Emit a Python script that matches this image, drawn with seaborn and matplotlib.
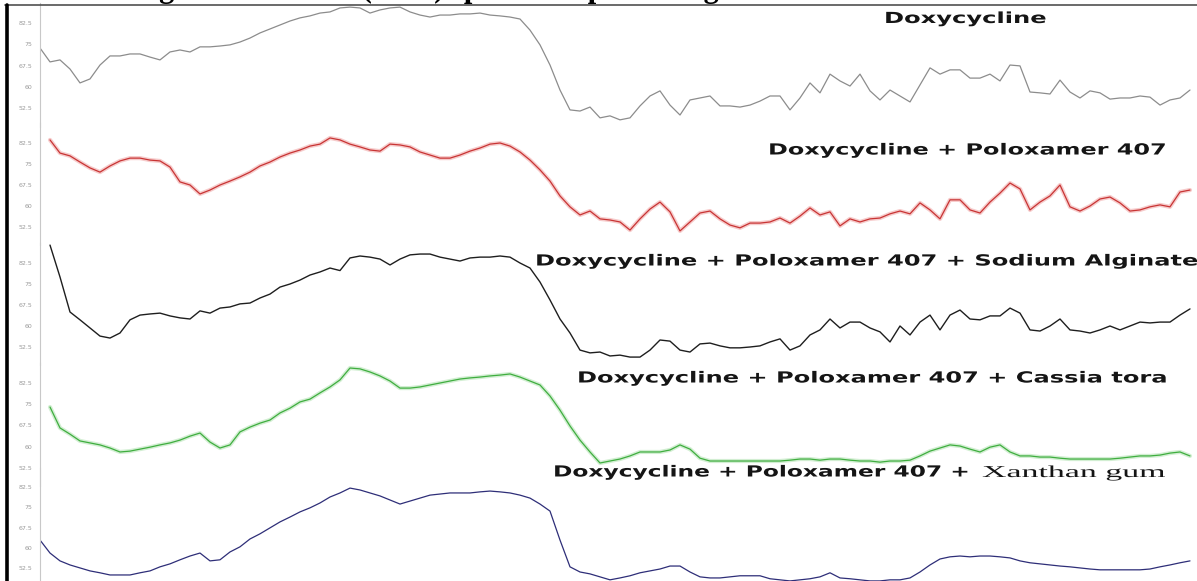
import matplotlib
matplotlib.use('Agg')
import numpy as np
import pandas as pd
import seaborn as sns
import matplotlib.pyplot as plt
from matplotlib.ticker import FixedLocator, MultipleLocator
from matplotlib.patheffects import AbstractPathEffect
from matplotlib.transforms import Affine2D
from matplotlib.lines import Line2D

# ---------------- data ----------------
nan = np.nan
wavenumber = list(range(4000, 549, -30))  # cm-1, sampling grid (116 points)

tick_values = [52.5, 60, 67.5, 75, 82.5]
tick_labels = ["52.5", "60", "67.5", "75", "82.5"]

caption = "Figure 10: FT-IR (ATR) spectra of pure drug and formulations"

labels = [
    "Doxycycline",
    "Doxycycline + Poloxamer 407",
    "Doxycycline + Poloxamer 407 + Sodium Alginate",
    "Doxycycline + Poloxamer 407 + Cassia tora",
    "Doxycycline + Poloxamer 407 + Xanthan gum",
]

doxy = [73.7, 68.8, 69.5, 66.3, 61.4, 62.8, 67.7, 70.9, 70.9, 71.6,
        71.6, 70.5, 69.5, 72.3, 73.0, 72.3, 74.1, 74.1, 74.4, 74.8,
        75.8, 77.2, 79.0, 80.4, 81.8, 83.2, 84.3, 85.0, 86.0, 86.4,
        87.8, 88.1, 87.8, 86.0, 87.1, 87.8, 88.1, 86.4, 85.3, 84.6,
        85.3, 85.3, 85.7, 85.7, 86.0, 85.3, 85.0, 84.6, 83.9, 80.0,
        74.8, 67.7, 58.9, 51.9, 51.5, 52.9, 49.1, 49.8, 48.4, 49.1,
        53.3, 56.8, 58.6, 53.6, 50.1, 55.4, 56.1, 56.8, 53.3, 53.3,
        52.9, 53.6, 55.0, 56.8, 56.8, 51.9, 56.1, 61.4, 57.9, 64.5,
        62.1, 60.3, 64.5, 58.6, 55.4, 58.9, 56.8, 54.7, 60.7, 66.7,
        64.5, 66.0, 66.0, 63.1, 63.1, 64.5, 62.1, 67.7, 67.4, 58.2,
        57.9, 57.5, 62.4, 58.2, 56.1, 58.6, 57.9, 55.7, 56.1, 56.1,
        56.8, 56.4, 53.6, 55.4, 56.1, 58.9]

doxy_p407 = [nan, 83.6, 78.9, 77.9, 75.7, 73.6, 72.1, 74.3, 76.1, 77.1,
             77.1, 76.4, 76.1, 73.9, 68.6, 67.5, 64.3, 65.7, 67.5, 68.9,
             70.4, 72.1, 74.3, 75.7, 77.5, 78.9, 80.0, 81.4, 82.1, 84.3,
             83.6, 82.1, 81.1, 80.0, 79.6, 82.1, 81.8, 81.1, 79.3, 78.2,
             77.1, 77.1, 78.2, 79.6, 80.7, 82.1, 82.5, 81.4, 79.3, 76.4,
             72.9, 68.9, 63.6, 59.7, 56.8, 58.2, 55.4, 55.0, 54.3, 51.4,
             55.4, 58.9, 61.4, 57.9, 51.1, 54.3, 57.5, 58.2, 55.4, 53.2,
             52.2, 53.9, 53.9, 54.3, 55.7, 53.9, 56.4, 59.3, 56.8, 57.9,
             52.9, 55.4, 54.3, 55.4, 55.7, 57.2, 58.2, 57.2, 61.1, 58.6,
             55.4, 62.2, 62.2, 58.6, 57.5, 61.4, 64.6, 68.2, 66.1, 58.6,
             61.4, 63.6, 67.5, 59.7, 58.2, 60.0, 62.5, 63.2, 61.1, 58.2,
             58.6, 59.7, 60.4, 59.7, 65.0, 65.7]

doxy_p407_sa = [nan, 88.9, 77.5, 65.0, 62.2, 59.3, 56.4, 55.7, 57.5, 62.2,
                63.9, 64.3, 64.6, 63.6, 62.9, 62.5, 65.4, 64.6, 66.4, 66.8,
                67.9, 68.2, 70.0, 71.4, 73.9, 75.0, 76.4, 78.2, 79.3, 80.7,
                79.8, 84.3, 85.0, 84.6, 83.9, 81.8, 83.9, 85.4, 85.7, 85.7,
                84.6, 83.9, 83.2, 84.3, 84.6, 84.6, 85.0, 84.6, 82.5, 80.7,
                75.7, 69.3, 62.5, 57.5, 51.4, 50.4, 50.7, 49.3, 49.6, 48.9,
                48.9, 51.4, 55.0, 54.6, 51.4, 50.7, 53.6, 53.9, 52.9, 52.2,
                52.2, 52.5, 52.9, 54.3, 55.4, 51.4, 52.9, 56.8, 58.6, 62.5,
                59.3, 61.4, 61.4, 59.3, 57.9, 54.3, 60.0, 56.8, 61.4, 63.9,
                58.6, 63.9, 65.7, 62.5, 62.2, 63.6, 63.6, 66.4, 64.6, 58.6,
                58.2, 60.0, 62.5, 58.6, 58.2, 57.5, 58.6, 60.0, 58.6, 60.0,
                61.4, 61.1, 61.4, 61.4, 63.9, 66.1]

doxy_p407_ct = [nan, 74.0, 66.6, 64.4, 62.0, 61.3, 60.6, 59.5, 58.1, 58.4,
                59.1, 59.8, 60.6, 61.3, 62.3, 63.7, 64.8, 61.6, 59.5, 60.6,
                65.2, 66.9, 68.3, 69.4, 71.9, 73.6, 75.8, 76.8, 79.0, 81.1,
                83.6, 87.8, 87.5, 86.4, 85.0, 83.2, 80.7, 80.7, 81.1, 81.8,
                82.5, 83.2, 83.9, 84.3, 84.6, 85.0, 85.3, 85.7, 84.6, 83.2,
                81.8, 77.9, 72.9, 67.3, 62.3, 58.1, 54.2, 54.9, 55.6, 56.7,
                58.1, 58.1, 58.1, 58.8, 60.6, 59.1, 55.9, 54.9, 54.9, 54.9,
                54.9, 54.9, 54.9, 54.9, 54.9, 55.2, 55.6, 55.6, 55.2, 55.6,
                55.6, 55.2, 54.9, 54.9, 54.5, 54.9, 54.9, 55.2, 56.7, 58.4,
                59.5, 60.6, 60.2, 59.1, 58.1, 59.8, 60.6, 58.1, 56.7, 56.7,
                56.3, 56.3, 55.9, 55.6, 55.6, 55.6, 55.6, 55.6, 55.9, 56.3,
                56.7, 56.7, 57.0, 57.7, 58.1, 56.7]

doxy_p407_xg = [62.9, 58.1, 55.2, 53.7, 52.6, 51.5, 50.8, 50.0, 50.0, 50.0,
                50.8, 51.5, 53.0, 54.1, 55.6, 57.0, 58.1, 55.2, 55.6, 58.5,
                60.4, 63.3, 65.2, 67.4, 69.6, 71.4, 73.3, 74.8, 76.6, 78.8,
                80.3, 82.1, 81.4, 80.3, 79.2, 77.7, 76.2, 77.3, 78.4, 79.5,
                79.9, 80.3, 80.3, 80.3, 80.7, 81.0, 80.7, 80.3, 79.5, 78.4,
                76.2, 73.6, 62.9, 53.0, 51.1, 50.4, 49.3, 48.2, 48.9, 49.7,
                50.8, 51.5, 52.2, 53.3, 53.3, 51.1, 49.3, 48.9, 48.9, 49.3,
                49.7, 49.7, 49.7, 48.6, 48.2, 47.8, 48.2, 48.6, 49.3, 50.8,
                48.9, 48.6, 48.2, 47.8, 47.8, 48.2, 48.2, 48.9, 51.1, 53.7,
                55.9, 56.7, 57.0, 56.7, 57.0, 57.0, 56.7, 56.3, 55.2, 54.5,
                54.1, 53.7, 53.3, 53.0, 52.6, 52.2, 51.9, 51.9, 51.9, 51.9,
                51.9, 52.2, 53.0, 53.7, 54.5, 55.2]

series = [doxy, doxy_p407, doxy_p407_sa, doxy_p407_ct, doxy_p407_xg]

# ---------------- style / layout ----------------
sns.set_style('white')
plt.rcParams['font.family'] = ['DejaVu Sans']

W, H = 1197, 581
fig = plt.figure(figsize=(W / 100, H / 100), dpi=100)

colors = ['#8c8c8c', '#c83434', '#1e1e1e', '#3fae3f', '#2e2e78']
halos = [None, '#f3b5b5', None, '#bfe8bf', None]
widths = [0.9, 0.9, 1.0, 0.9, 0.9]
y82_px = [23, 143, 263, 383, 487]      # pixel row of the 82.5 tick
dy_px = [21.3, 21.0, 21.0, 21.2, 20.3]  # pixels per 7.5 units
YLO, YHI = 46.0, 89.5
X_LEFT = 40
wn_right = 4000 - 3 * (W - X_LEFT)

for vals, col, halo, lw, y82, dy in zip(series, colors, halos, widths, y82_px, dy_px):
    top = y82 - (YHI - 82.5) / 7.5 * dy
    bot = y82 + (82.5 - YLO) / 7.5 * dy
    ax = fig.add_axes([X_LEFT / W, 1 - bot / H, (W - X_LEFT) / W, (bot - top) / H])
    ax.patch.set_alpha(0)
    df = pd.DataFrame({'wavenumber': wavenumber, 'T': vals})
    if halo is not None:
        sns.lineplot(data=df, x='wavenumber', y='T', ax=ax, color=halo, lw=3.0,
                     alpha=0.7, sort=False, estimator=None)
    sns.lineplot(data=df, x='wavenumber', y='T', ax=ax, color=col, lw=lw,
                 sort=False, estimator=None)
    ax.set_xlim(4000, wn_right)
    ax.set_ylim(YLO, YHI)
    ax.set_xlabel('')
    ax.set_ylabel('')
    ax.set_xticks([])
    for s in ['top', 'right', 'bottom']:
        ax.spines[s].set_visible(False)
    ax.spines['left'].set_color('#c8c8c8')
    ax.spines['left'].set_linewidth(0.8)
    ax.yaxis.set_major_locator(FixedLocator(tick_values))
    ax.set_yticklabels(tick_labels)
    ax.yaxis.set_minor_locator(MultipleLocator(1.5))
    ax.tick_params(axis='y', which='major', length=3.5, width=0.6, color='#b0b0b0',
                   labelsize=4.5, labelcolor='#9a9a9a', pad=2)
    ax.tick_params(axis='y', which='minor', length=1.8, width=0.5, color='#c0c0c0')
    ax.grid(False)

# frame lines
fig.add_artist(Line2D([5 / W, 1], [1 - 5 / H, 1 - 5 / H], transform=fig.transFigure,
                      color='#505050', lw=1.2))
fig.add_artist(Line2D([6.5 / W, 6.5 / W], [1 - 5 / H, 0], transform=fig.transFigure,
                      color='black', lw=2.6))

# caption sitting above the crop: only its descenders remain visible, as in the source image
fig.text(132 / W, 1 + 3 / H, caption,
         ha='left', va='baseline', fontsize=22, fontweight='bold',
         family=['Liberation Serif', 'DejaVu Serif'], color='black')


class HStretch(AbstractPathEffect):
    def __init__(self, sx, x0):
        super().__init__()
        self.sx = sx
        self.x0 = x0

    def draw_path(self, renderer, gc, tpath, affine, rgbFace=None):
        a = affine + Affine2D().translate(-self.x0, 0).scale(self.sx, 1).translate(self.x0, 0)
        renderer.draw_path(gc, tpath, a, rgbFace)


fig.canvas.draw()
renderer = fig.canvas.get_renderer()


def wide_text(txt, left, right, yc, **kw):
    t = fig.text(left / W, 1 - yc / H, txt, ha='left', va='center', **kw)
    bb = t.get_window_extent(renderer)
    sx = (right - left) / bb.width
    t.set_path_effects([HStretch(sx, bb.x0)])
    return t


sans = dict(fontsize=11, fontweight='bold', family=['DejaVu Sans'], color='#151515')
wide_text(labels[0], 884, 1046, 18.5, **sans)
wide_text(labels[1], 768, 1165, 150, **sans)
wide_text(labels[2], 535, 1195, 261, **sans)
wide_text(labels[3], 577, 1165, 378, **sans)
head, tail = labels[4].split(' + Xanthan')
wide_text(head + ' +', 553, 968, 472, **sans)
wide_text('Xanthan' + tail, 982, 1165, 473, fontsize=12, fontweight='normal',
          family=['Liberation Serif', 'DejaVu Serif'], color='#151515')

fig.savefig('out.png', dpi=100)
